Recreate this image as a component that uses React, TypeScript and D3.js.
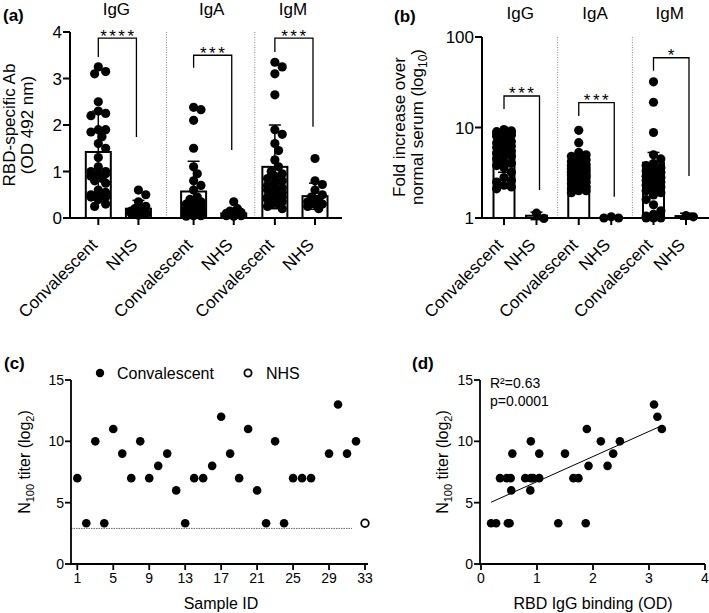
import React from "react";
import * as d3 from "d3";

const FONT = "'Liberation Sans', Arial, Helvetica, sans-serif";

// ---------- Panels (a) and (b): categories ----------
const isotypes = ["IgG", "IgA", "IgM"];
const cohorts = ["Convalescent", "NHS"];

// ---------- Panel (a): RBD-specific Ab (OD 492 nm) ----------
const aIgGConv = [3.25, 3.15, 3.1, 2.5, 2.3, 2.25, 2.2, 1.9, 1.9, 1.85, 1.75, 1.6, 1.5, 1.3, 1.1, 1.0, 1.0, 0.95, 0.95, 0.9, 0.85, 0.8, 0.75, 0.6, 0.55, 0.5, 0.5, 0.45, 0.45, 0.4, 0.3, 0.25];
const aIgGNHS = [0.6, 0.5, 0.35, 0.25, 0.2, 0.18, 0.15, 0.12, 0.1, 0.1, 0.08, 0.06];
const aIgAConv = [2.38, 2.33, 2.1, 1.5, 1.1, 0.95, 0.8, 0.7, 0.6, 0.45, 0.4, 0.35, 0.3, 0.3, 0.25, 0.25, 0.2, 0.2, 0.2, 0.15, 0.15, 0.15, 0.12, 0.1, 0.1, 0.1, 0.08, 0.08, 0.06, 0.05, 0.05, 0.04];
const aIgANHS = [0.35, 0.2, 0.15, 0.12, 0.1, 0.1, 0.08, 0.08, 0.06, 0.05, 0.05, 0.04];
const aIgMConv = [3.35, 3.25, 3.1, 2.65, 1.9, 1.8, 1.6, 1.45, 1.25, 1.1, 1.0, 0.95, 0.9, 0.85, 0.8, 0.75, 0.7, 0.65, 0.6, 0.6, 0.55, 0.5, 0.5, 0.45, 0.45, 0.4, 0.4, 0.35, 0.3, 0.3, 0.25, 0.2];
const aIgMNHS = [1.28, 0.8, 0.72, 0.6, 0.5, 0.45, 0.4, 0.35, 0.3, 0.3, 0.25, 0.2];
// column order: IgG Conv, IgG NHS, IgA Conv, IgA NHS, IgM Conv, IgM NHS
const aMeans = [1.42, 0.2, 0.57, 0.1, 1.1, 0.47];
const aSD = [0.88, 0.18, 0.65, 0.1, 0.9, 0.28];
const aTicks = [0, 1, 2, 3, 4];
const aStars = ["****", "***", "***"];
// bracket: [top, left leg end, right leg end] in OD units
const aBrackets = [[3.87, 3.46, 1.74], [3.5, 3.23, 1.46], [3.87, 3.57, 1.96]];

// ---------- Panel (b): fold increase over normal serum ----------
const bIgGConv = [9.5, 9.2, 9.0, 8.8, 8.7, 8.5, 8.5, 8.2, 8.0, 7.5, 7.0, 6.8, 6.5, 6.2, 6.0, 5.8, 5.5, 5.2, 5.0, 4.8, 4.5, 4.2, 4.0, 3.8, 3.6, 3.2, 2.8, 2.6, 2.5, 2.3, 2.2, 2.1];
const bIgGNHS = [0.99, 1.13];
const bIgAConv = [9.3, 6.8, 5.3, 5.0, 4.8, 4.5, 4.4, 4.2, 4.0, 3.9, 3.8, 3.7, 3.6, 3.5, 3.4, 3.3, 3.2, 3.1, 3.0, 3.0, 2.9, 2.8, 2.7, 2.6, 2.5, 2.4, 2.3, 2.2, 2.1, 2.0, 2.0, 1.9];
const bIgANHS = [1.0, 1.03, 1.0];
const bIgMConv = [32, 19, 8.8, 5.0, 4.5, 4.0, 3.8, 3.6, 3.4, 3.3, 3.2, 3.0, 2.9, 2.8, 2.7, 2.6, 2.5, 2.4, 2.3, 2.2, 2.1, 2.0, 1.9, 1.8, 1.6, 1.4, 1.2, 1.1, 1.05, 1.0, 1.0, 1.0];
const bIgMNHS = [1.03, 1.06];
const bMeans = [5.4, 1.06, 3.48, 1.01, 4.08, 1.05];
const bSD = [2.2, 0.1, 1.5, 0.02, 1.22, 0.08];
const bTicks = [1, 10, 100];
const bStars = ["***", "***", "*"];
const bBrackets = [[22.3, 16, 2.04], [18.8, 13.4, 1.72], [59, 42.4, 2.91]];

// ---------- Panel (c): N100 titer by sample ----------
const sampleIds = d3.range(1, 33);
const n100Titer = [7, 3.32, 10, 3.32, 11, 9, 7, 10, 7, 8, 9, 6, 3.32, 7, 7, 8, 12, 9, 7, 11, 6, 3.32, 10, 3.32, 7, 7, 7, null, 9, 13, 9, 10];
const nhsSampleId = 33;
const nhsTiter = 3.32;
const detectionLimit = 2.9;
const cXTicks = [1, 5, 9, 13, 17, 21, 25, 29, 33];
const cdYTicks = [0, 5, 10, 15];

// ---------- Panel (d): N100 titer vs RBD IgG binding ----------
const rbdIgGOD = [3.09, 3.15, 3.23, 1.89, 2.14, 2.48, 0.89, 0.56, 1.04, 1.5, 2.36, 1.92, 2.26, 0.34, 0.46, 0.53, 0.79, 0.89, 0.93, 1.04, 1.65, 1.74, 0.54, 0.88, 0.18, 0.27, 0.48, 0.51, 1.38, 1.87];
const n100Log2 = [13, 12, 11, 11, 10, 10, 10, 9, 9, 9, 9, 8, 8, 7, 7, 7, 7, 7, 7, 7, 7, 7, 6, 6, 3.32, 3.32, 3.32, 3.32, 3.32, 3.32];
const dXTicks = [0, 1, 2, 3, 4];
const rSquared = "0.63";
const pValue = "0.0001";

// ---------- helpers ----------
function swarmOffsets(ys: number[], r: number, maxOff: number, minDist: number): number[] {
  const order = ys.map((_, i) => i).sort((a, b) => ys[a] - ys[b]);
  const placed: [number, number][] = [];
  const out = new Array(ys.length).fill(0);
  const step = r * 0.8;
  const cands = [0];
  for (let k = 1; k * step <= maxOff + 1e-6; k++) cands.push(k * step, -k * step);
  for (const i of order) {
    const y = ys[i];
    let best = 0;
    let bestScore = Infinity;
    for (const c of cands) {
      let s = 0;
      for (const [px, py] of placed) {
        const d = Math.hypot(px - c, py - y);
        if (d < minDist) s += minDist - d;
      }
      if (s < bestScore - 1e-9) {
        bestScore = s;
        best = c;
      }
      if (s === 0) break;
    }
    placed.push([best, y]);
    out[i] = best;
  }
  return out;
}

type ColProps = {
  cx: number;
  values: number[];
  mean: number;
  sd: number;
  y: (v: number) => number;
  base: number;
  barW: number;
  r: number;
  maxOff: number;
};

function Column({ cx, values, mean, sd, y, base, barW, r, maxOff }: ColProps) {
  const ys = values.map((v) => y(v));
  const offs = swarmOffsets(ys, r, maxOff, r * 1.55);
  const top = y(mean + sd);
  const bot = y(Math.max(mean - sd, 1e-6));
  const cap = 6;
  return (
    <g>
      <rect x={cx - barW / 2} y={y(mean)} width={barW} height={base - y(mean)} fill="#fff" stroke="#000" strokeWidth={2} />
      <line x1={cx} x2={cx} y1={top} y2={bot} stroke="#000" strokeWidth={1.5} />
      <line x1={cx - cap} x2={cx + cap} y1={top} y2={top} stroke="#000" strokeWidth={1.5} />
      <line x1={cx - cap} x2={cx + cap} y1={bot} y2={bot} stroke="#000" strokeWidth={1.5} />
      {values.map((v, i) => (
        <circle key={i} cx={cx + offs[i]} cy={ys[i]} r={r} fill="#000" />
      ))}
    </g>
  );
}

function Bracket({ x1, x2, top, l, r, stars, fs }: { x1: number; x2: number; top: number; l: number; r: number; stars: string; fs: number }) {
  return (
    <g>
      <path d={`M${x1},${l}V${top}H${x2}V${r}`} fill="none" stroke="#000" strokeWidth={1.3} />
      <text x={(x1 + x2) / 2 + 1} y={top + 3.5} textAnchor="middle" fontSize={fs} letterSpacing={2.5} fontFamily={FONT}>
        {stars}
      </text>
    </g>
  );
}

export default function App() {
  // ----- panel (a) scales -----
  const slotsA = [0, 1, 2.375, 3.375, 4.4, 5.4];
  const xA = d3.scaleLinear().domain([0, 5.4]).range([98.3, 315]);
  const yA = d3.scaleLinear().domain([0, 4]).range([218, 32]);
  const colsA = [aIgGConv, aIgGNHS, aIgAConv, aIgANHS, aIgMConv, aIgMNHS];
  const sepA = [1.7, 3.9];

  // ----- panel (b) scales -----
  const slotsB = [0, 1, 2.3, 3.3, 4.6, 5.6];
  const xB = d3.scaleLinear().domain([0, 5.6]).range([504, 686]);
  const yB = d3.scaleLog().domain([1, 100]).range([218, 37]);
  const colsB = [bIgGConv, bIgGNHS, bIgAConv, bIgANHS, bIgMConv, bIgMNHS];
  const sepB = [1.65, 3.95];

  // ----- panel (c) scales -----
  const xC = d3.scaleLinear().domain([1, 33]).range([77.3, 365]);
  const yC = d3.scaleLinear().domain([0, 15]).range([564, 380]);

  // ----- panel (d) scales -----
  const xD = d3.scaleLinear().domain([0, 4]).range([481, 705]);
  const yD = yC;

  // regression for (d)
  const mx = d3.mean(rbdIgGOD)!;
  const my = d3.mean(n100Log2)!;
  const sxy = d3.sum(rbdIgGOD, (x, i) => (x - mx) * (n100Log2[i] - my));
  const sxx = d3.sum(rbdIgGOD, (x) => (x - mx) * (x - mx));
  const slope = sxy / sxx;
  const icpt = my - slope * mx;
  const [xmin, xmax] = d3.extent(rbdIgGOD) as [number, number];

  const fsAB = 17;
  const fsCD = 14;
  const labelDrop = 28;

  return (
    <svg width={709} height={613} style={{ position: "absolute", left: 0, top: 0, background: "#fff" }} fontFamily={FONT}>
      <rect width={709} height={613} fill="#fff" />

      {/* ================= Panel (a) ================= */}
      <text x={3} y={21} fontSize={17} fontWeight="bold">(a)</text>
      {isotypes.map((iso, g) => (
        <text key={iso} x={(xA(slotsA[2 * g]) + xA(slotsA[2 * g + 1])) / 2 - 2} y={15} fontSize={fsAB} textAnchor="middle">{iso}</text>
      ))}
      {sepA.map((s, i) => (
        <line key={i} x1={xA(s)} x2={xA(s)} y1={yA(4)} y2={yA(0)} stroke="#888" strokeWidth={1} strokeDasharray="1,1.5" />
      ))}
      <g transform={`rotate(-90, 15, 125)`}>
        <text x={15} y={125} fontSize={fsAB} textAnchor="middle">RBD-specific Ab</text>
      </g>
      <g transform={`rotate(-90, 33, 125)`}>
        <text x={33} y={125} fontSize={fsAB} textAnchor="middle">(OD 492 nm)</text>
      </g>
      {colsA.map((vals, ci) => (
        <Column key={ci} cx={xA(slotsA[ci])} values={vals} mean={aMeans[ci]} sd={aSD[ci]} y={yA} base={yA(0)} barW={25} r={4.6} maxOff={10} />
      ))}
      {aBrackets.map((b, g) => (
        <Bracket key={g} x1={xA(slotsA[2 * g])} x2={xA(slotsA[2 * g + 1]) - 2} top={yA(b[0])} l={yA(b[1])} r={yA(b[2])} stars={aStars[g]} fs={17} />
      ))}
      {/* axes */}
      <line x1={70} x2={70} y1={yA(4)} y2={yA(0) + 1} stroke="#000" strokeWidth={2} />
      <line x1={69} x2={342} y1={yA(0)} y2={yA(0)} stroke="#000" strokeWidth={2.2} />
      {aTicks.map((t) => (
        <g key={t}>
          <line x1={63} x2={70} y1={yA(t)} y2={yA(t)} stroke="#000" strokeWidth={2} />
          <text x={62} y={yA(t) + 6} fontSize={fsAB} textAnchor="end">{t}</text>
        </g>
      ))}
      {slotsA.map((s, ci) => (
        <g key={ci}>
          <line x1={xA(s)} x2={xA(s)} y1={yA(0)} y2={yA(0) + 7} stroke="#000" strokeWidth={2} />
          <text transform={`translate(${xA(s)},${yA(0) + labelDrop}) rotate(-45)`} fontSize={fsAB} textAnchor="end">{cohorts[ci % 2]}</text>
        </g>
      ))}

      {/* ================= Panel (b) ================= */}
      <text x={394} y={22} fontSize={17} fontWeight="bold">(b)</text>
      {isotypes.map((iso, g) => (
        <text key={iso} x={(xB(slotsB[2 * g]) + xB(slotsB[2 * g + 1])) / 2} y={19} fontSize={fsAB} textAnchor="middle">{iso}</text>
      ))}
      {sepB.map((s, i) => (
        <line key={i} x1={xB(s)} x2={xB(s)} y1={yB(100)} y2={yB(1)} stroke="#888" strokeWidth={1} strokeDasharray="1,1.5" />
      ))}
      <g transform={`rotate(-90, 405, 127)`}>
        <text x={405} y={127} fontSize={fsAB} textAnchor="middle">Fold increase over</text>
      </g>
      <g transform={`rotate(-90, 423, 127)`}>
        <text x={423} y={127} fontSize={fsAB} textAnchor="middle">
          normal serum (log<tspan dy={4} fontSize={12}>10</tspan><tspan dy={-4}>)</tspan>
        </text>
      </g>
      {colsB.map((vals, ci) => (
        <Column key={ci} cx={xB(slotsB[ci])} values={vals} mean={bMeans[ci]} sd={bSD[ci]} y={yB} base={yB(1)} barW={21} r={4.6} maxOff={8} />
      ))}
      {bBrackets.map((b, g) => (
        <Bracket key={g} x1={xB(slotsB[2 * g])} x2={xB(slotsB[2 * g + 1]) + 3} top={yB(b[0])} l={yB(b[1])} r={yB(b[2])} stars={bStars[g]} fs={17} />
      ))}
      <line x1={482} x2={482} y1={yB(100)} y2={yB(1) + 1} stroke="#000" strokeWidth={2} />
      <line x1={481} x2={709} y1={yB(1)} y2={yB(1)} stroke="#000" strokeWidth={2.2} />
      {bTicks.map((t) => (
        <g key={t}>
          <line x1={475} x2={482} y1={yB(t)} y2={yB(t)} stroke="#000" strokeWidth={2} />
          <text x={474} y={yB(t) + 6} fontSize={fsAB} textAnchor="end">{t}</text>
        </g>
      ))}
      {slotsB.map((s, ci) => (
        <g key={ci}>
          <line x1={xB(s)} x2={xB(s)} y1={yB(1)} y2={yB(1) + 7} stroke="#000" strokeWidth={2} />
          <text transform={`translate(${xB(s)},${yB(1) + labelDrop}) rotate(-45)`} fontSize={fsAB} textAnchor="end">{cohorts[ci % 2]}</text>
        </g>
      ))}

      {/* ================= Panel (c) ================= */}
      <text x={4} y={369} fontSize={17} fontWeight="bold">(c)</text>
      {/* legend */}
      <circle cx={100} cy={373} r={4.2} fill="#000" />
      <text x={117} y={379} fontSize={16}>{cohorts[0]}</text>
      <circle cx={248} cy={373} r={3.6} fill="#fff" stroke="#000" strokeWidth={1.8} />
      <text x={266} y={379} fontSize={16}>{cohorts[1]}</text>
      {/* threshold */}
      <line x1={71} x2={352} y1={yC(detectionLimit)} y2={yC(detectionLimit)} stroke="#666" strokeWidth={1} strokeDasharray="1.5,1" />
      {/* axes */}
      <line x1={71} x2={71} y1={yC(15)} y2={yC(0) + 1} stroke="#000" strokeWidth={1.8} />
      <line x1={70} x2={368} y1={yC(0)} y2={yC(0)} stroke="#000" strokeWidth={1.8} />
      {cdYTicks.map((t) => (
        <g key={t}>
          <line x1={65} x2={71} y1={yC(t)} y2={yC(t)} stroke="#000" strokeWidth={1.8} />
          <text x={64} y={yC(t) + 5} fontSize={fsCD} textAnchor="end">{t}</text>
        </g>
      ))}
      {cXTicks.map((t) => (
        <g key={t}>
          <line x1={xC(t)} x2={xC(t)} y1={yC(0)} y2={yC(0) + 6} stroke="#000" strokeWidth={1.8} />
          <text x={xC(t)} y={583} fontSize={fsCD} textAnchor="middle">{t}</text>
        </g>
      ))}
      <text x={221} y={609} fontSize={16} textAnchor="middle">Sample ID</text>
      <g transform={`rotate(-90, 30, 462)`}>
        <text x={30} y={462} fontSize={16} textAnchor="middle">
          N<tspan dy={4} fontSize={11}>100</tspan><tspan dy={-4}> titer (log</tspan><tspan dy={4} fontSize={11}>2</tspan><tspan dy={-4}>)</tspan>
        </text>
      </g>
      {sampleIds.map((id, i) =>
        n100Titer[i] == null ? null : <circle key={id} cx={xC(id)} cy={yC(n100Titer[i] as number)} r={4.3} fill="#000" />
      )}
      <circle cx={xC(nhsSampleId)} cy={yC(nhsTiter)} r={3.8} fill="#fff" stroke="#000" strokeWidth={1.8} />

      {/* ================= Panel (d) ================= */}
      <text x={412} y={369} fontSize={17} fontWeight="bold">(d)</text>
      <line x1={480} x2={480} y1={yD(15)} y2={yD(0) + 1} stroke="#000" strokeWidth={1.8} />
      <line x1={479} x2={705} y1={yD(0)} y2={yD(0)} stroke="#000" strokeWidth={1.8} />
      {cdYTicks.map((t) => (
        <g key={t}>
          <line x1={474} x2={480} y1={yD(t)} y2={yD(t)} stroke="#000" strokeWidth={1.8} />
          <text x={473} y={yD(t) + 5} fontSize={fsCD} textAnchor="end">{t}</text>
        </g>
      ))}
      {dXTicks.map((t) => (
        <g key={t}>
          <line x1={xD(t)} x2={xD(t)} y1={yD(0)} y2={yD(0) + 6} stroke="#000" strokeWidth={1.8} />
          <text x={xD(t)} y={583} fontSize={fsCD} textAnchor="middle">{t}</text>
        </g>
      ))}
      <text x={593} y={609} fontSize={16} textAnchor="middle">RBD IgG binding (OD)</text>
      <g transform={`rotate(-90, 448, 462)`}>
        <text x={448} y={462} fontSize={16} textAnchor="middle">
          N<tspan dy={4} fontSize={11}>100</tspan><tspan dy={-4}> titer (log</tspan><tspan dy={4} fontSize={11}>2</tspan><tspan dy={-4}>)</tspan>
        </text>
      </g>
      <text x={490} y={388} fontSize={14}>R²={rSquared}</text>
      <text x={490} y={406} fontSize={14}>p={pValue}</text>
      <line x1={xD(xmin)} x2={xD(xmax)} y1={yD(icpt + slope * xmin)} y2={yD(icpt + slope * xmax)} stroke="#000" strokeWidth={1} />
      {rbdIgGOD.map((x, i) => (
        <circle key={i} cx={xD(x)} cy={yD(n100Log2[i])} r={4.3} fill="#000" />
      ))}
    </svg>
  );
}
